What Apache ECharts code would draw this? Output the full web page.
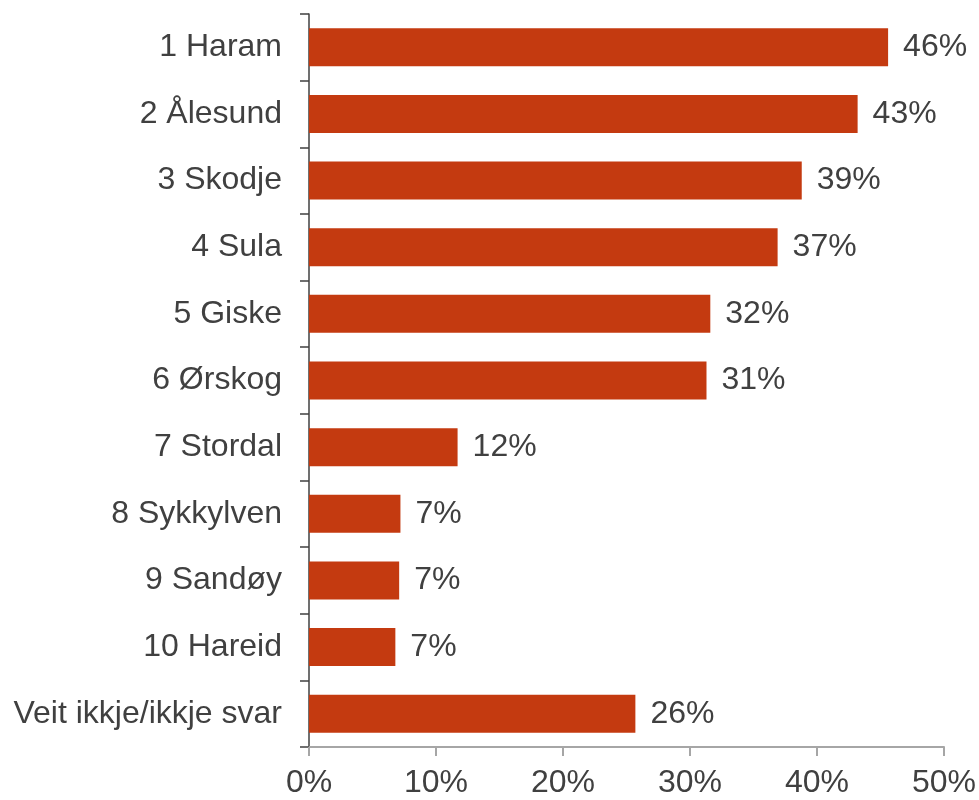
<!DOCTYPE html>
<html>
<head>
<meta charset="utf-8">
<script src="https://cdn.jsdelivr.net/npm/echarts@6/dist/echarts.min.js"></script>
<style>
  html, body { margin: 0; padding: 0; background: #fff; }
  #chart { width: 979px; height: 800px; }
</style>
</head>
<body>
<div id="chart"></div>
<script>
// kommunar, frå toppen og ned
const categories = [
  "1 Haram", "2 Ålesund", "3 Skodje", "4 Sula", "5 Giske", "6 Ørskog",
  "7 Stordal", "8 Sykkylven", "9 Sandøy", "10 Hareid", "Veit ikkje/ikkje svar"
];
// prosent
const values = [45.6, 43.2, 38.8, 36.9, 31.6, 31.3, 11.7, 7.2, 7.1, 6.8, 25.7];
const xTicks = [0, 10, 20, 30, 40, 50];

const FONT = "Liberation Sans, Arial, sans-serif";
const myChart = echarts.init(document.getElementById("chart"));

const option = {
  animation: false,
  grid: { left: 309, right: 34, top: 14, bottom: 53 },
  xAxis: {
    type: "value",
    min: xTicks[0],
    max: xTicks[xTicks.length - 1],
    interval: 10,
    splitLine: { show: false },
    axisLine: { show: true, lineStyle: { color: "#a6a6a6", width: 2 } },
    axisTick: { show: true, length: 9, lineStyle: { color: "#a6a6a6", width: 2 } },
    axisLabel: {
      margin: 20,
      fontSize: 32,
      fontFamily: FONT,
      color: "#404040",
      formatter: (v) => v + "%",
    },
  },
  yAxis: {
    type: "category",
    inverse: true,
    data: categories,
    axisLine: { show: true, lineStyle: { color: "#404040", width: 1.5 } },
    axisTick: { show: true, length: 9, lineStyle: { color: "#404040", width: 1.5 } },
    axisLabel: {
      margin: 27,
      fontSize: 32,
      fontFamily: FONT,
      color: "#404040",
    },
  },
  series: [
    {
      type: "bar",
      data: values,
      barWidth: 38,
      itemStyle: { color: "#c43a10" },
      label: {
        show: true,
        position: "right",
        distance: 15,
        fontSize: 32,
        fontFamily: FONT,
        color: "#404040",
        formatter: (p) => Math.round(p.value) + "%",
      },
    },
  ],
};

myChart.setOption(option);
</script>
</body>
</html>
